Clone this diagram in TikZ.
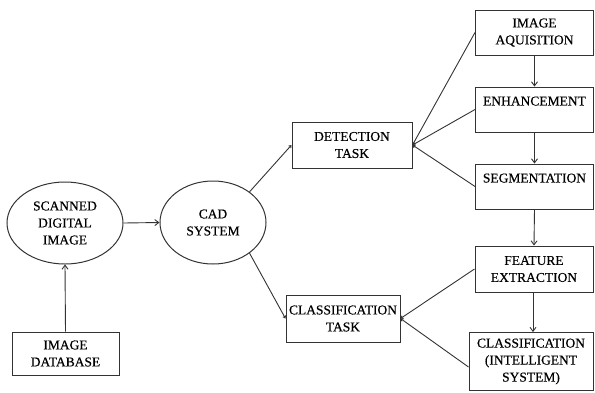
\documentclass[tikz,border=0pt]{standalone}
\usepackage{fontspec}
\setmainfont{Liberation Serif}[FakeBold=0.4]
\usetikzlibrary{shapes.geometric,arrows.meta}
\begin{document}
\begin{tikzpicture}[x=1pt,y=-1pt,
  every node/.style={font=\fontsize{13.5}{17}\selectfont, text=black, align=center, inner sep=0pt},
  box/.style={draw=black!80, line width=1pt, rectangle},
  oval/.style={draw=black!80, line width=1pt, ellipse},
  conn/.style={draw=black!80, line width=0.9pt},
  arr/.style={conn, -{Straight Barb[length=4pt,width=6pt]}},
  tip/.style={conn, -{Straight Barb[length=2pt,width=3pt]}}]
\useasboundingbox (0,0) rectangle (595,392);
\node[oval, minimum width=116pt, minimum height=82pt] (scan) at (65,223) {SCANNED\\DIGITAL\\IMAGE};
\node[oval, minimum width=106pt, minimum height=83pt] (cad) at (213,222.5) {CAD\\SYSTEM};
\node[box, minimum width=107pt, minimum height=43pt] (db) at (65.5,353.5) {IMAGE\\DATABASE};
\node[box, minimum width=120pt, minimum height=46pt] (det) at (352,145) {DETECTION\\TASK};
\node[box, minimum width=114pt, minimum height=47pt] (ctask) at (343,318.5) {CLASSIFICATION\\TASK};
\node[box, minimum width=118pt, minimum height=45pt] (aq) at (534.5,32.5) {IMAGE\\AQUISITION};
\node[box, minimum width=118pt, minimum height=45pt] (en) at (534.5,109.5) {ENHANCEMENT\\\mbox{}};
\node[box, minimum width=118pt, minimum height=45pt] (seg) at (534.5,186.5) {SEGMENTATION\\\mbox{}};
\node[box, minimum width=118pt, minimum height=46pt] (fe) at (534,269) {FEATURE\\EXTRACTION};
\node[box, minimum width=124pt, minimum height=58pt] (cls) at (531,361.5) {CLASSIFICATION\\(INTELLIGENT\\SYSTEM)};
\draw[arr] (db.north) -- (scan.south);
\draw[arr] (scan.east) -- (cad.west);
\draw[tip] (cad.40) -- (det.west);
\draw[tip] (cad.-40) -- (ctask.west);
\draw[tip] (aq.west) -- (det.east);
\draw[tip] (en.west) -- (det.east);
\draw[tip] (seg.west) -- (det.east);
\draw[tip] (fe.west) -- (ctask.east);
\draw[tip] ([yshift=-5.5pt]cls.west) -- (ctask.east);
\draw[arr] (aq.south) -- (en.north);
\draw[arr] (en.south) -- (seg.north);
\draw[arr] (seg.south) -- (fe.north);
\draw[arr] ([xshift=-1pt]fe.south) -- ([xshift=-1pt]fe.south |- cls.north);
\end{tikzpicture}
\end{document}
